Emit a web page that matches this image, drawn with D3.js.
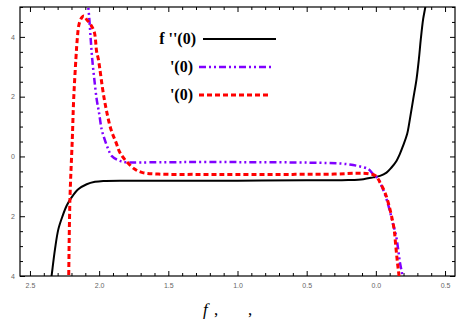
<!DOCTYPE html>
<html>
<head>
<meta charset="utf-8">
<script src="https://cdn.jsdelivr.net/npm/d3@7"></script>
<style>
  body { margin: 0; background: #fff; }
  .tick text { font-family: "Liberation Sans", Arial, sans-serif; font-size: 7px; fill: #666; }
</style>
</head>
<body>
<svg id="chart" width="464" height="335"></svg>
<script>
"use strict";

// values (f on x axis, reversed)
const blackF = [2.36, 2.343, 2.319, 2.295, 2.264, 2.235, 2.199, 2.151, 2.09, 2.03, 1.97, 1.8, 1.5, 1.0, 0.5, 0.31, 0.2, 0.09, 0.02, -0.03, -0.077, -0.113, -0.149, -0.173, -0.197, -0.226, -0.246, -0.27, -0.294, -0.311, -0.325, -0.342, -0.359, -0.365];
const blackV = [-4.6, -3.97, -3.1, -2.44, -1.99, -1.65, -1.37, -1.1, -0.93, -0.85, -0.82, -0.81, -0.81, -0.81, -0.8, -0.8, -0.79, -0.76, -0.7, -0.65, -0.54, -0.37, -0.15, 0.08, 0.36, 0.75, 1.25, 1.92, 2.59, 3.26, 3.93, 4.6, 5.04, 5.3];

const purpleF = [2.082, 2.079, 2.071, 2.061, 2.05, 2.035, 2.018, 2.001, 1.982, 1.965, 1.934, 1.91, 1.85, 1.8, 1.7, 1.4, 1.0, 0.6, 0.35, 0.25, 0.19, 0.12, 0.056, 0.02, -0.017, -0.041, -0.077, -0.101, -0.121, -0.144, -0.161, -0.174, -0.19, -0.196];
const purpleV = [5.3, 5.04, 4.6, 3.93, 3.26, 2.59, 1.92, 1.47, 0.91, 0.64, 0.24, 0.02, -0.15, -0.2, -0.2, -0.19, -0.19, -0.2, -0.22, -0.24, -0.27, -0.33, -0.42, -0.59, -0.76, -0.98, -1.43, -1.82, -2.21, -2.6, -3.1, -3.55, -3.94, -4.3];

const redF = [2.222, 2.22, 2.211, 2.194, 2.184, 2.168, 2.158, 2.145, 2.125, 2.11, 2.09, 2.06, 2.035, 2.018, 2.006, 1.963, 1.915, 1.879, 1.85, 1.806, 1.741, 1.686, 1.573, 1.3, 1.0, 0.6, 0.3, 0.14, 0.05, 0.0, -0.03, -0.065, -0.089, -0.113, -0.132, -0.144, -0.156, -0.166, -0.172];
const redV = [-4.5, -4.0, -1.43, 0.58, 1.92, 3.26, 3.93, 4.43, 4.65, 4.7, 4.58, 4.4, 4.16, 3.5, 3.26, 1.92, 0.91, 0.48, 0.13, -0.15, -0.43, -0.54, -0.59, -0.6, -0.6, -0.6, -0.59, -0.56, -0.58, -0.65, -0.87, -1.2, -1.54, -1.99, -2.44, -3.0, -3.55, -3.94, -4.3];

const xMajor = [2.5, 2.0, 1.5, 1.0, 0.5, 0.0, -0.5];
const yMajor = [-4, -2, 0, 2, 4];

const legendLabels = ["f ''(0)", "'(0)", "'(0)"];
const legendColors = ["#000000", "#8000ff", "#ff0000"];

const svg = d3.select("#chart");
const pLeft = 20, pRight = 455, pTop = 7, pBottom = 276;

const x = d3.scaleLinear().domain([2.572, -0.572]).range([pLeft, pRight]);
const y = d3.scaleLinear().domain([-4, 5]).range([pBottom, pTop]);

svg.append("clipPath").attr("id", "clip")
  .append("rect").attr("x", pLeft).attr("y", pTop).attr("width", pRight - pLeft).attr("height", pBottom - pTop);

const xMinor = d3.range(-5, 26).map(d => d / 10).filter(d => !xMajor.some(m => Math.abs(m - d) < 1e-6));
const yMinor = d3.range(-8, 11).map(d => d / 2).filter(d => !yMajor.includes(d));

function ticks(axis, tr, vals, size, fmt, pad) {
  const g = svg.append("g").attr("transform", tr)
    .call(axis.tickValues(vals).tickSizeInner(-size).tickSizeOuter(0).tickPadding(pad).tickFormat(fmt));
  g.select(".domain").remove();
  g.selectAll(".tick line").attr("stroke", "#000").attr("stroke-width", 1);
  return g;
}
const fmtX = d => d3.format(".1f")(Math.abs(d));
const fmtY = d => String(Math.abs(d));
const none = () => "";

ticks(d3.axisBottom(x), `translate(0,${pBottom})`, xMajor, 5, fmtX, 7);
ticks(d3.axisBottom(x), `translate(0,${pBottom})`, xMinor, 3, none, 7);
ticks(d3.axisTop(x), `translate(0,${pTop})`, xMajor, 5, none, 3);
ticks(d3.axisTop(x), `translate(0,${pTop})`, xMinor, 3, none, 3);
ticks(d3.axisLeft(y), `translate(${pLeft},0)`, yMajor, 5, fmtY, 5);
ticks(d3.axisLeft(y), `translate(${pLeft},0)`, yMinor, 3, none, 5);
ticks(d3.axisRight(y), `translate(${pRight},0)`, yMajor, 5, none, 3);
ticks(d3.axisRight(y), `translate(${pRight},0)`, yMinor, 3, none, 3);

svg.append("rect")
  .attr("x", pLeft).attr("y", pTop).attr("width", pRight - pLeft).attr("height", pBottom - pTop)
  .attr("fill", "none").attr("stroke", "#000").attr("stroke-width", 1.2);

const line = d3.line().x(d => x(d[0])).y(d => y(d[1])).curve(d3.curveCatmullRom.alpha(0.5));
const plot = svg.append("g").attr("clip-path", "url(#clip)");

plot.append("path").datum(blackF.map((f, i) => [f, blackV[i]]))
  .attr("d", line).attr("fill", "none").attr("stroke", legendColors[0]).attr("stroke-width", 2);
plot.append("path").datum(purpleF.map((f, i) => [f, purpleV[i]]))
  .attr("d", line).attr("fill", "none").attr("stroke", legendColors[1]).attr("stroke-width", 2.5)
  .attr("stroke-dasharray", "7,3,2,3,2,3");
plot.append("path").datum(redF.map((f, i) => [f, redV[i]]))
  .attr("d", line).attr("fill", "none").attr("stroke", legendColors[2]).attr("stroke-width", 3)
  .attr("stroke-dasharray", "5,3");

// legend
const legY = [39, 67, 95];
const legTextX = [196, 193, 193];
const legLine = [[203, 276], [199, 273], [199, 269]];
const legDash = [null, "7,3,2,3,2,3", "5,3"];
const legWidth = [2, 2.5, 3];
legendLabels.forEach((t, i) => {
  svg.append("text").attr("x", legTextX[i]).attr("y", legY[i] + 5)
    .attr("text-anchor", "end")
    .style("font-family", "'Liberation Serif', 'Times New Roman', serif")
    .style("font-weight", "bold").style("font-size", "16px")
    .text(t);
  svg.append("line").attr("x1", legLine[i][0]).attr("x2", legLine[i][1])
    .attr("y1", legY[i]).attr("y2", legY[i])
    .attr("stroke", legendColors[i]).attr("stroke-width", legWidth[i])
    .attr("stroke-dasharray", legDash[i]);
});

// axis label
const lab = svg.append("text").attr("y", 315)
  .style("font-family", "'Liberation Serif', 'Times New Roman', serif").style("font-size", "17px");
lab.append("tspan").attr("x", 203).style("font-style", "italic").text("f");
lab.append("tspan").attr("x", 214).text(",");
svg.append("text").attr("x", 248).attr("y", 315)
  .style("font-family", "'Liberation Serif', 'Times New Roman', serif").style("font-size", "17px")
  .text(",");
</script>
</body>
</html>
